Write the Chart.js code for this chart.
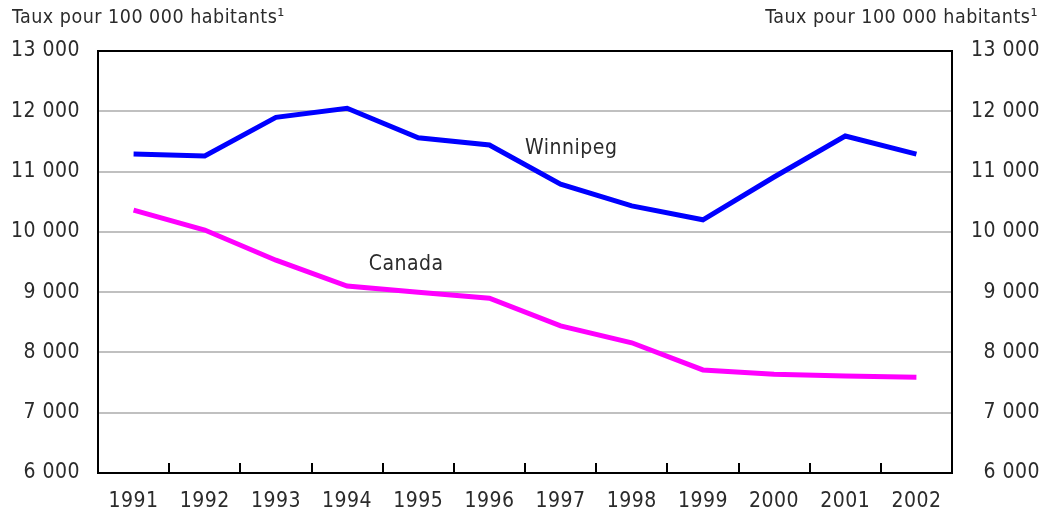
<!DOCTYPE html>
<html>
<head>
<meta charset="utf-8">
<script src="https://cdn.jsdelivr.net/npm/chart.js@4"></script>
<style>
  body { margin: 0; background: #fff; }
  #wrap { width: 1057px; height: 512px; }
</style>
</head>
<body>
<div id="wrap"><canvas id="chart"></canvas></div>
<script>
const years = ["1991", "1992", "1993", "1994", "1995", "1996", "1997", "1998", "1999", "2000", "2001", "2002"];
const winnipeg = [11290, 11260, 11900, 12050, 11560, 11440, 10790, 10430, 10200, 10910, 11590, 11290];
const canada = [10360, 10030, 9530, 9100, 9000, 8900, 8440, 8160, 7710, 7640, 7610, 7590];
const axisTitle = "Taux pour 100 000 habitants\u00B9";
const yMin = 6000, yMax = 13000, yStep = 1000;

const fontFam = "'DejaVu Sans Condensed', 'DejaVu Sans', sans-serif";
const fontSize = 21;
const textColor = "#2b2b2b";

// format "13 000"
function fmt(v) {
    return String(v).replace(/\B(?=(\d{3})+(?!\d))/g, " ");
}

// un peu d'espacement entre les lettres, comme l'original
const spacing = {
    id: "spacing",
    beforeDraw(chart) { chart.ctx.letterSpacing = "0.5px"; }
};

// cadre noir, petites graduations et étiquettes des séries
const extras = {
    id: "extras",
    afterDatasetsDraw(chart) {
        const ctx = chart.ctx;
        const a = chart.chartArea;
        const x = chart.scales.x;
        const y = chart.scales.y;
        ctx.save();
        ctx.strokeStyle = "#000";
        ctx.lineWidth = 2;
        ctx.strokeRect(a.left, a.top, a.right - a.left, a.bottom - a.top);
        for (let i = 0; i < years.length - 1; i++) {
            const px = Math.round((x.getPixelForValue(i) + x.getPixelForValue(i + 1)) / 2);
            ctx.beginPath();
            ctx.moveTo(px, a.bottom);
            ctx.lineTo(px, a.bottom - 10);
            ctx.stroke();
        }
        ctx.fillStyle = textColor;
        ctx.font = fontSize + "px " + fontFam;
        ctx.textAlign = "center";
        ctx.textBaseline = "middle";
        ctx.fillText("Winnipeg", x.getPixelForValue(6.15), y.getPixelForValue(11380));
        ctx.fillText("Canada", x.getPixelForValue(3.83), y.getPixelForValue(9460));
        // titres d'axes
        ctx.font = "19.5px " + fontFam;
        ctx.textAlign = "left";
        ctx.fillText(axisTitle, 12, 18);
        ctx.textAlign = "right";
        ctx.fillText(axisTitle, 1038, 18);
        ctx.restore();
    }
};

const ctx = document.getElementById("chart").getContext("2d");
const chart = new Chart(ctx, {
    type: "line",
    data: {
        labels: years,
        datasets: [{
            label: "Winnipeg",
            data: winnipeg,
            borderColor: "#0000ff",
            borderWidth: 5,
            pointRadius: 0,
            tension: 0,
        }, {
            label: "Canada",
            data: canada,
            borderColor: "#ff00ff",
            borderWidth: 5,
            pointRadius: 0,
            tension: 0,
        }],
    },
    options: {
        responsive: true,
        maintainAspectRatio: false,
        animation: false,
        layout: { padding: { top: 51, left: 0, right: 17, bottom: 0 } },
        plugins: {
            legend: { display: false },
            tooltip: { enabled: false },
        },
        scales: {
            x: {
                offset: true,
                grid: { display: false, drawTicks: false },
                border: { display: false },
                ticks: { color: textColor, font: { family: fontFam, size: fontSize }, padding: 16, maxRotation: 0 },
                afterFit(s) { s.height = 39; },
            },
            y: {
                position: "left",
                min: yMin,
                max: yMax,
                grid: { color: "#c0c0c0", lineWidth: 2, drawTicks: false },
                border: { display: false },
                ticks: { stepSize: yStep, color: textColor, font: { family: fontFam, size: fontSize }, padding: 18, callback: v => fmt(v) },
                afterFit(s) { s.width = 98; },
            },
            y2: {
                position: "right",
                min: yMin,
                max: yMax,
                grid: { display: false, drawTicks: false },
                border: { display: false },
                ticks: { stepSize: yStep, color: textColor, font: { family: fontFam, size: fontSize }, padding: 0, crossAlign: "far", callback: v => fmt(v) },
                afterFit(s) { s.width = 88; },
            },
        },
    },
    plugins: [spacing, extras],
});
</script>
</body>
</html>
